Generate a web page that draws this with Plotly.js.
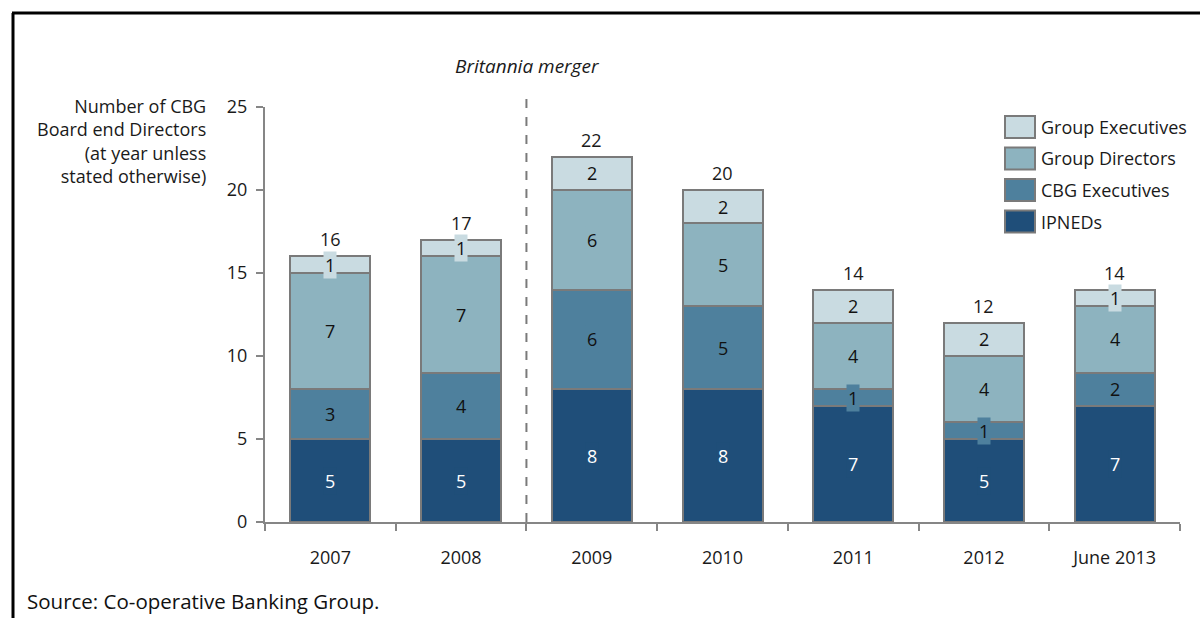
<!DOCTYPE html>
<html>
<head>
<meta charset="utf-8">
<script src="https://cdn.plot.ly/plotly-3.0.1.min.js"></script>
<style>html,body{margin:0;padding:0;background:#fff;}#chart{width:1200px;height:618px;}</style>
</head>
<body>
<div id="chart"></div>
<script>
const categories = ["2007", "2008", "2009", "2010", "2011", "2012", "June 2013"];
const ipneds = [5, 5, 8, 8, 7, 5, 7];
const cbgExecutives = [3, 4, 6, 5, 1, 1, 2];
const groupDirectors = [7, 7, 6, 5, 4, 4, 4];
const groupExecutives = [1, 1, 2, 2, 2, 2, 1];
const totals = [16, 17, 22, 20, 14, 12, 14];
const seriesNames = ["IPNEDs", "CBG Executives", "Group Directors", "Group Executives"];
const yTicks = [0, 5, 10, 15, 20, 25];
const yTitleText = "Number of CBG<br>Board end Directors<br>(at year unless<br>stated otherwise)";
const mergerLabel = "Britannia merger";
const sourceText = "Source: Co-operative Banking Group.";

const colors = ["#1f4e79", "#4e809d", "#8db3bf", "#c9dbe1"];
const textColors = ["#ffffff", "#111111", "#111111", "#111111"];
const FONT = "Open Sans, Noto Sans, sans-serif";
const TXT = "#1a1a1a";

const W = 1200, H = 618;
const M = {l: 265, r: 20, t: 107, b: 96};
const pw = W - M.l - M.r, ph = H - M.t - M.b;
const px = x => (x - M.l) / pw;
const py = y => 1 - (y - M.t) / ph;

const seriesValues = [ipneds, cbgExecutives, groupDirectors, groupExecutives];

const traces = seriesValues.map((vals, i) => ({
  type: "bar",
  name: seriesNames[i],
  x: categories,
  y: vals,
  marker: {color: colors[i], line: {color: "#7a7a7a", width: 2}},
  showlegend: false,
  hoverinfo: "x+y+name"
}));

const annotations = [];
// segment labels (x given as category index)
categories.forEach((c, j) => {
  let base = 0;
  seriesValues.forEach((vals, i) => {
    const v = vals[j];
    annotations.push({
      x: j, y: base + v / 2, xref: "x", yref: "y",
      text: String(v), showarrow: false,
      font: {family: FONT, size: 18, color: textColors[i]},
      bgcolor: colors[i], borderpad: 1
    });
    base += v;
  });
  annotations.push({
    x: j, y: totals[j], xref: "x", yref: "y", yanchor: "bottom", yshift: 3,
    text: String(totals[j]), showarrow: false,
    font: {family: FONT, size: 18, color: TXT}
  });
});

// y-axis title
annotations.push({
  x: px(208), y: py(141), xref: "paper", yref: "paper", xanchor: "right", yanchor: "middle",
  text: yTitleText, align: "right", showarrow: false,
  font: {family: FONT, size: 18, color: TXT}
});
// merger label
annotations.push({
  x: px(527), y: py(66), xref: "paper", yref: "paper", xanchor: "center", yanchor: "middle",
  text: "<i>" + mergerLabel + "</i>", showarrow: false,
  font: {family: FONT, size: 19, color: TXT}
});
// source
annotations.push({
  x: px(25), y: py(601), xref: "paper", yref: "paper", xanchor: "left", yanchor: "middle",
  text: sourceText, showarrow: false,
  font: {family: FONT, size: 20.5, color: "#111111"}
});

const shapes = [];
// frame
shapes.push({type: "line", xref: "paper", yref: "paper", x0: px(13), x1: px(13), y0: py(13), y1: py(640), line: {color: "#000", width: 3}});
shapes.push({type: "line", xref: "paper", yref: "paper", x0: px(12), x1: px(1210), y0: py(13), y1: py(13), line: {color: "#000", width: 3}});
// merger dashed line (between 2008 and 2009)
shapes.push({type: "line", xref: "x", yref: "paper", x0: 1.5, x1: 1.5, y0: 0, y1: py(96), line: {color: "#7a7a7a", width: 2, dash: "dash"}});

// legend (drawn manually, top to bottom: reverse series order)
const legOrder = [3, 2, 1, 0];
legOrder.forEach((si, k) => {
  const top = 116 + k * 31.5;
  shapes.push({type: "rect", xref: "paper", yref: "paper", x0: px(1005), x1: px(1035), y0: py(top), y1: py(top + 22),
    fillcolor: colors[si], line: {color: "#7a7a7a", width: 2}});
  annotations.push({x: px(1039), y: py(top + 11), xref: "paper", yref: "paper", xanchor: "left", yanchor: "middle",
    text: seriesNames[si], showarrow: false, font: {family: FONT, size: 18, color: TXT}});
});

const layout = {
  width: W, height: H,
  margin: M,
  paper_bgcolor: "#ffffff", plot_bgcolor: "#ffffff",
  barmode: "stack",
  bargap: 0.388,
  font: {family: FONT, size: 18, color: TXT},
  xaxis: {
    type: "category",
    range: [-0.5, categories.length - 0.5],
    showline: true, linecolor: "#868686", linewidth: 2,
    ticks: "outside", tickson: "boundaries", ticklen: 7, tickcolor: "#868686", tickwidth: 2,
    ticklabelstandoff: 18,
    showgrid: false, zeroline: false,
    tickfont: {family: FONT, size: 18, color: TXT},
    automargin: false
  },
  yaxis: {
    range: [0, 25],
    tickvals: yTicks,
    showline: true, linecolor: "#868686", linewidth: 2,
    ticks: "outside", ticklen: 7, tickcolor: "#868686", tickwidth: 2,
    ticklabelstandoff: 5,
    showgrid: false, zeroline: false,
    tickfont: {family: FONT, size: 18, color: TXT},
    automargin: false
  },
  shapes: shapes,
  annotations: annotations
};

Plotly.newPlot("chart", traces, layout, {displayModeBar: false, staticPlot: true});
</script>
</body>
</html>
